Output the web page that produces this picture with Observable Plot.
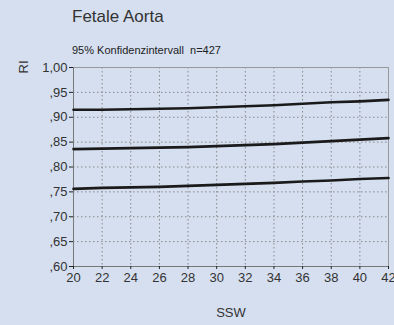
<!DOCTYPE html>
<html><head><meta charset="utf-8">
<script src="https://cdn.jsdelivr.net/npm/d3@7"></script>
<script src="https://cdn.jsdelivr.net/npm/@observablehq/plot@0.6"></script>
<style>
html,body{margin:0;padding:0;background:#d5dff0;}
body{width:394px;height:325px;position:relative;overflow:hidden;font-family:"Liberation Sans",Arial,sans-serif;}
#title{position:absolute;left:72px;top:7px;font-size:17px;color:#333;}
#sub{position:absolute;left:72px;top:44px;font-size:11px;color:#222;}
#chart{position:absolute;left:0;top:0;}
</style></head><body>
<div id="chart"></div>
<div id="title">Fetale Aorta</div>
<div id="sub">95% Konfidenzintervall&nbsp; n=427</div>
<script>
const weeks = [20, 22, 24, 26, 28, 30, 32, 34, 36, 38, 40, 42];
const upper = [0.915, 0.915, 0.916, 0.917, 0.918, 0.920, 0.922, 0.924, 0.927, 0.930, 0.932, 0.935];
const median = [0.836, 0.837, 0.838, 0.839, 0.840, 0.842, 0.844, 0.846, 0.849, 0.852, 0.855, 0.858];
const lower = [0.756, 0.758, 0.759, 0.760, 0.762, 0.764, 0.766, 0.768, 0.771, 0.773, 0.776, 0.778];
const xTicks = [20, 22, 24, 26, 28, 30, 32, 34, 36, 38, 40, 42];
const yTicks = [0.60, 0.65, 0.70, 0.75, 0.80, 0.85, 0.90, 0.95, 1.00];

const series = [["upper", upper], ["median", median], ["lower", lower]];
const data = series.flatMap(([name, vals]) => weeks.map((w, i) => ({series: name, week: w, ri: vals[i]})));
const fmt = d => d.toFixed(2).replace(".", ",").replace(/^0/, "");

const plot = Plot.plot({
  width: 394, height: 325,
  marginLeft: 73, marginRight: 6, marginTop: 67, marginBottom: 59,
  style: {background: "transparent", fontFamily: "Liberation Sans, Arial, sans-serif", fontSize: "12px", color: "#333"},
  x: {domain: [20, 42], ticks: xTicks, tickSize: 3, tickPadding: 3, label: null},
  y: {domain: [0.60, 1.00], ticks: yTicks, tickSize: 4, tickPadding: 2, tickFormat: fmt, label: null},
  marks: [
    Plot.gridX(xTicks.slice(1, -1), {stroke: "#888", strokeOpacity: 1, strokeDasharray: "1.5,2.5", strokeWidth: 1}),
    Plot.gridY(yTicks.slice(1, -1), {stroke: "#888", strokeOpacity: 1, strokeDasharray: "1.5,2.5", strokeWidth: 1}),
    Plot.frame({stroke: "#999", strokeWidth: 1}),
    Plot.ruleX([20], {stroke: "#777"}),
    Plot.ruleY([0.60], {stroke: "#777"}),
    Plot.line(data, {x: "week", y: "ri", z: "series", stroke: "#1a1a1a", strokeWidth: 2.6}),
    Plot.axisX({ticks: xTicks, tickSize: 3, tickPadding: 3, tickFormat: d => d, stroke: "#222", fontSize: 13, fill: "#333"}),
    Plot.axisY({ticks: yTicks, tickSize: 4, tickPadding: 2, tickFormat: fmt, stroke: "#222", fontSize: 13, fill: "#333"}),
    Plot.text(["SSW"], {frameAnchor: "bottom", dy: 50, dx: 0, fontSize: 13, fill: "#333", textAnchor: "middle"}),
    Plot.text(["RI"], {frameAnchor: "top-left", dx: -55, dy: 6, rotate: -90, fontSize: 13, fill: "#333"})
  ]
});
document.getElementById("chart").appendChild(plot);
</script>
</body></html>
